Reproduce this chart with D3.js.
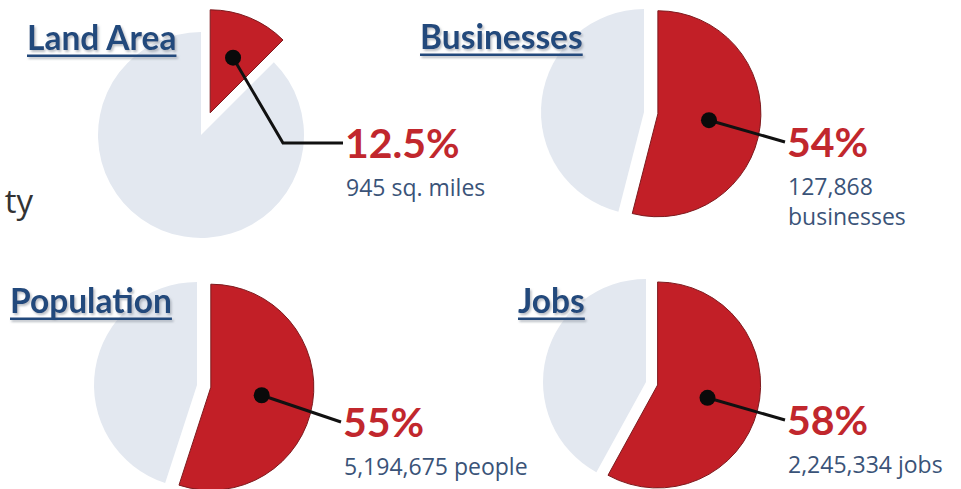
<!DOCTYPE html>
<html>
<head>
<meta charset="utf-8">
<script src="https://cdn.jsdelivr.net/npm/d3@7"></script>
<style>
  html, body { margin: 0; padding: 0; background: #ffffff; }
  svg { display: block; }
</style>
</head>
<body>
<script>
// ---- data ----
const categories = ["Land Area", "Businesses", "Population", "Jobs"];
const shares = [12.5, 54, 55, 58];
const percentLabels = ["12.5%", "54%", "55%", "58%"];
const detailLines = [["945 sq. miles"], ["127,868", "businesses"], ["5,194,675 people"], ["2,245,334 jobs"]];
const sideText = "ty";

// ---- layout ----
const W = 961, H = 489;
const R = 103;
const layout = [
  { cx: 201, cy: 135, explode: 24, dotR: 0.58, title: [27, 50], label: [345, 158], elbowX: 283 },
  { cx: 644, cy: 112, explode: 14, dotR: 0.5, title: [420, 49], label: [787, 157] },
  { cx: 197, cy: 385, explode: 14, dotR: 0.5, title: [10, 313], label: [343, 437] },
  { cx: 646, cy: 382, explode: 12, dotR: 0.5, title: [518, 313], label: [787, 435] }
];

const svg = d3.select("body").append("svg").attr("width", W).attr("height", H);

const defs = svg.append("defs");
const f = defs.append("filter").attr("id", "tshadow")
  .attr("x", "-10%").attr("y", "-20%").attr("width", "130%").attr("height", "160%");
f.append("feDropShadow").attr("dx", 1.5).attr("dy", 2).attr("stdDeviation", 0.8)
  .attr("flood-color", "#8a939e").attr("flood-opacity", 0.6);

const color = d3.scaleOrdinal().domain(["share", "rest"]).range(["#C21F27", "#E3E8F0"]);
const pie = d3.pie().sort(null).value(d => d.v).startAngle(0).endAngle(2 * Math.PI);
const arc = d3.arc().innerRadius(0).outerRadius(R);

svg.append("text")
  .attr("x", 33).attr("y", 213)
  .attr("text-anchor", "end")
  .attr("font-family", "Open Sans, Lato, sans-serif")
  .attr("font-size", 33)
  .attr("fill", "#333")
  .text(sideText);

categories.forEach((cat, i) => {
  const L = layout[i];
  const data = [{ k: "share", v: shares[i] }, { k: "rest", v: 100 - shares[i] }];
  const arcs = pie(data);
  const g = svg.append("g").attr("transform", `translate(${L.cx},${L.cy})`);

  // grey remainder
  g.append("path").attr("d", arc(arcs[1])).attr("fill", color("rest"));

  // exploded share slice
  const a = arcs[0];
  const mid = (a.startAngle + a.endAngle) / 2;
  const ox = Math.sin(mid) * L.explode, oy = -Math.cos(mid) * L.explode;
  const rg = g.append("g").attr("transform", `translate(${ox},${oy})`);
  rg.append("path").attr("d", arc(a)).attr("fill", color("share"))
    .attr("stroke", "#7E1A1E").attr("stroke-width", 1);

  // dot + leader
  const dx = ox + Math.sin(mid) * R * L.dotR, dy = oy - Math.cos(mid) * R * L.dotR;
  const endX = L.label[0] - L.cx - 2, endY = L.label[1] - L.cy - 15;
  const pts = L.elbowX !== undefined
    ? [[dx, dy], [L.elbowX - L.cx, endY], [endX, endY]]
    : [[dx, dy], [endX, endY]];
  g.append("path").attr("d", d3.line()(pts))
    .attr("fill", "none").attr("stroke", "#111").attr("stroke-width", 3);
  g.append("circle").attr("cx", dx).attr("cy", dy).attr("r", 8).attr("fill", "#0a0a0a");

  // title with shadow + underline
  const tg = svg.append("g").attr("filter", "url(#tshadow)");
  const t = tg.append("text")
    .attr("x", L.title[0]).attr("y", L.title[1])
    .attr("font-family", "Lato, Open Sans, sans-serif").attr("font-weight", 700)
    .attr("font-size", 33.5).attr("fill", "#22497B").text(cat);
  const tw = t.node().getComputedTextLength();
  tg.append("rect").attr("x", L.title[0]).attr("y", L.title[1] + 4.5)
    .attr("width", tw).attr("height", 2.5).attr("fill", "#22497B");

  // labels
  svg.append("text")
    .attr("x", L.label[0]).attr("y", L.label[1])
    .attr("font-family", "Lato, Open Sans, sans-serif").attr("font-weight", 700)
    .attr("font-size", 41).attr("fill", "#C1272D").text(percentLabels[i]);
  detailLines[i].forEach((line, j) => {
    svg.append("text")
      .attr("x", L.label[0] + 1).attr("y", L.label[1] + 38 + j * 30)
      .attr("font-family", "Open Sans, Lato, sans-serif")
      .attr("font-size", 23).attr("fill", "#3A5378").text(line);
  });
});
</script>
</body>
</html>
